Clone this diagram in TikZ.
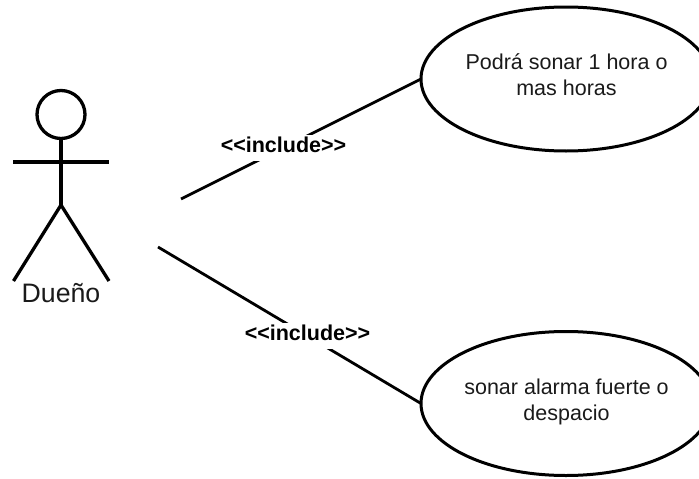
\documentclass[tikz,border=0pt]{standalone}
\usepackage{fontspec}
\setmainfont{Liberation Sans}
\usetikzlibrary{shapes.geometric}
\definecolor{ink}{HTML}{1A1A1A}
\tikzset{
 usecase/.style={draw=black,ellipse,line width=3pt,minimum width=290pt,minimum height=144pt,inner sep=0pt,outer sep=0pt},
 casetext/.style={anchor=base,align=center,text=ink,inner sep=0pt,font=\fontsize{21.5}{26}\selectfont},
 conn/.style={line width=2.8pt},
 limb/.style={line width=3.3pt},
 stereo/.style={anchor=base,text=black,font=\bfseries\fontsize{21.5}{24}\selectfont,fill=white,inner xsep=1pt,inner ysep=0pt,text height=17pt,text depth=9pt},
 actorlabel/.style={anchor=base,text=ink,font=\fontsize{26.7}{30}\selectfont},
}
\begin{document}
\begin{tikzpicture}[x=1pt,y=-1pt]
\useasboundingbox (0,0) rectangle (699,479);
\node[usecase] (a) at (566,79) {};
\node[usecase] (b) at (566,403.5) {};
\node[casetext] (at) at (566.5,95) {Podrá sonar 1 hora o\\mas horas};
\node[casetext] (bt) at (566.5,420) {sonar alarma fuerte o\\despacio};
\coordinate (c1) at (181,199);
\coordinate (c2) at (158,247);
\draw[conn] (c1) -- (a.west);
\draw[conn] (c2) -- (b.west);
\node[stereo] (la) at (283.5,152) {<{}<include>{}>};
\node[stereo] (lb) at (307.5,340) {<{}<include>{}>};
\node[draw,limb,circle,minimum size=48pt,inner sep=0pt,outer sep=0pt] (head) at (61,114.5) {};
\coordinate (hip) at (61,205);
\coordinate (al) at (13,162);
\coordinate (ar) at (109,162);
\coordinate (fl) at (13.5,281);
\coordinate (fr) at (109,281);
\draw[limb] (head.south) -- (hip);
\draw[limb] (al) -- (ar);
\draw[limb] (fl) -- (hip) -- (fr);
\node[actorlabel] (d) at (61,302.5) {Dueño};
\end{tikzpicture}
\end{document}
